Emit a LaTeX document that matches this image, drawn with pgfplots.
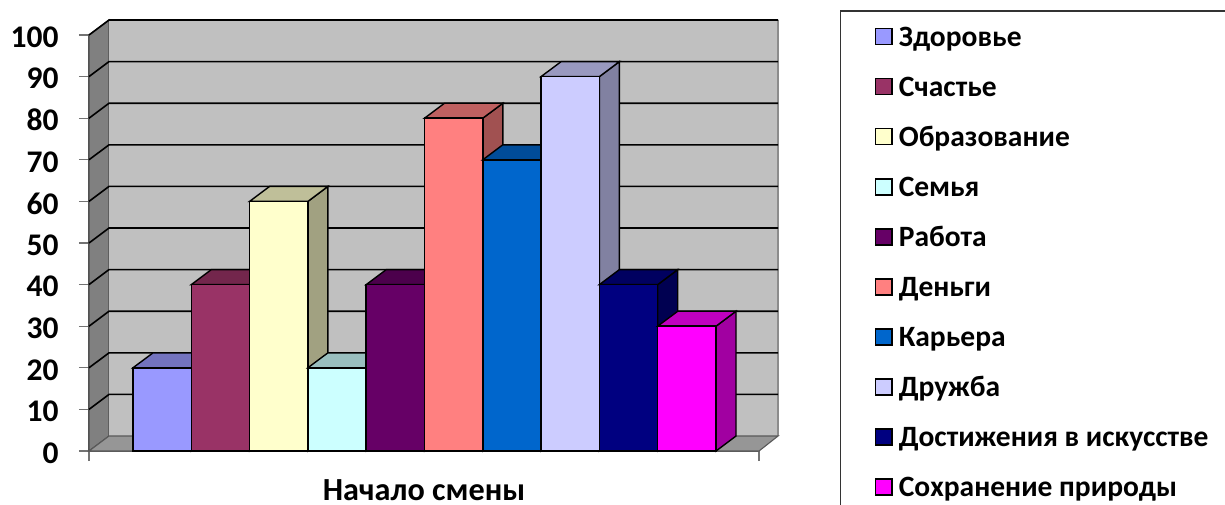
\documentclass[border=0pt]{standalone}
\usepackage{fontspec}
\setmainfont{Carlito}
\usepackage{pgfplots}
\pgfplotsset{compat=1.18}

\definecolor{wallback}{HTML}{C0C0C0}
\definecolor{wallside}{HTML}{808080}
\definecolor{wallfloor}{HTML}{969696}
\definecolor{c1}{HTML}{9999FF}
\definecolor{c2}{HTML}{993366}
\definecolor{c3}{HTML}{FFFFCC}
\definecolor{c4}{HTML}{CCFFFF}
\definecolor{c5}{HTML}{660066}
\definecolor{c6}{HTML}{FF8080}
\definecolor{c7}{HTML}{0066CC}
\definecolor{c8}{HTML}{CCCCFF}
\definecolor{c9}{HTML}{000080}
\definecolor{c10}{HTML}{FF00FF}

\pgfplotsset{
  frontface/.style={
    ybar, bar width=58.3, bar shift=0pt,
    fill=#1, draw=black, line width=1.5pt,
    legend image code/.code={
      \draw[fill=#1, draw=black, line width=1.7pt] (-1pt,-4pt) rectangle (15.5pt,12pt);
    },
  },
  topface/.style={forget plot, fill=#1!75!black, draw=black, line width=1.4pt},
  sideface/.style={forget plot, fill=#1!63!black, draw=black, line width=1.4pt},
  gridrule/.style={forget plot, draw=black, line width=1.6pt},
}

\begin{document}
\begin{tikzpicture}
\useasboundingbox (0pt,0pt) rectangle (1225pt,504pt);
\begin{axis}[
  at={(89pt,53pt)}, anchor=south west,
  scale only axis, width=670pt, height=416pt,
  xmin=89, xmax=759, ymin=0, ymax=100,
  clip=false,
  axis x line=bottom, axis y line=left,
  axis line style={-, draw=black!65, line width=1.3pt},
  xtick={89,759}, xticklabels={,},
  ytick={0,10,...,100},
  tick align=outside, major tick length=10pt,
  tick style={draw=black!55, line width=1.2pt},
  /pgf/number format/assume math mode=true,
  yticklabel style={font=\fontsize{31.5}{31.5}\selectfont\bfseries, xshift=-17pt, yshift=-2pt},
  xlabel={Начало смены},
  xlabel style={at={(axis description cs:0.5,-0.094)}, anchor=center,
    font=\fontsize{32.2}{32.2}\selectfont\bfseries},
  legend style={
    at={(1.1209,1.0589)}, anchor=north west,
    draw=black!80, line width=1.3pt, fill=white,
    inner xsep=34pt, inner ysep=16.5pt,
    row sep=24.7pt, column sep=6pt,
    font=\fontsize{29.5}{29.5}\selectfont\bfseries,
    nodes={inner sep=0pt, text height=18pt, text depth=7pt},
  },
  legend cell align=left,
]
% Walls and floor of the chart box
\addplot[forget plot, fill=wallside, draw=black!70, line width=1.2pt]
  coordinates {(89,0)(109,3.6)(109,103.6)(89,100)} -- cycle;
\addplot[forget plot, fill=wallback, draw=none]
  coordinates {(109,3.6)(109,103.6)(778,103.6)(778,3.6)} -- cycle;
\addplot[forget plot, draw=black!45, line width=1.6pt]
  coordinates {(778,3.6)(778,103.6)};
\addplot[forget plot, fill=wallfloor, draw=black!65, line width=1.1pt]
  coordinates {(89,0)(109,3.6)(778,3.6)(759,0)} -- cycle;

% Gridlines running across the side wall and the back wall
\addplot[gridrule] coordinates {(89,10)(109,13.6)(778,13.6)};
\addplot[gridrule] coordinates {(89,20)(109,23.6)(778,23.6)};
\addplot[gridrule] coordinates {(89,30)(109,33.6)(778,33.6)};
\addplot[gridrule] coordinates {(89,40)(109,43.6)(778,43.6)};
\addplot[gridrule] coordinates {(89,50)(109,53.6)(778,53.6)};
\addplot[gridrule] coordinates {(89,60)(109,63.6)(778,63.6)};
\addplot[gridrule] coordinates {(89,70)(109,73.6)(778,73.6)};
\addplot[gridrule] coordinates {(89,80)(109,83.6)(778,83.6)};
\addplot[gridrule] coordinates {(89,90)(109,93.6)(778,93.6)};
\addplot[gridrule] coordinates {(89,100)(109,103.6)(778,103.6)};

% Bars, left to right: side, top, then the front face carrying the value
\addplot[sideface=c1] coordinates {(191.3,0)(211.3,3.6)(211.3,23.6)(191.3,20)} -- cycle;
\addplot[topface=c1] coordinates {(133,20)(153,23.6)(211.3,23.6)(191.3,20)} -- cycle;
\addplot[frontface=c1] coordinates {(162.15,20)};
\addlegendentry{Здоровье}

\addplot[sideface=c2] coordinates {(249.6,0)(269.6,3.6)(269.6,43.6)(249.6,40)} -- cycle;
\addplot[topface=c2] coordinates {(191.3,40)(211.3,43.6)(269.6,43.6)(249.6,40)} -- cycle;
\addplot[frontface=c2] coordinates {(220.45,40)};
\addlegendentry{Счастье}

\addplot[sideface=c3] coordinates {(307.9,0)(327.9,3.6)(327.9,63.6)(307.9,60)} -- cycle;
\addplot[topface=c3] coordinates {(249.6,60)(269.6,63.6)(327.9,63.6)(307.9,60)} -- cycle;
\addplot[frontface=c3] coordinates {(278.75,60)};
\addlegendentry{Образование}

\addplot[sideface=c4] coordinates {(366.2,0)(386.2,3.6)(386.2,23.6)(366.2,20)} -- cycle;
\addplot[topface=c4] coordinates {(307.9,20)(327.9,23.6)(386.2,23.6)(366.2,20)} -- cycle;
\addplot[frontface=c4] coordinates {(337.05,20)};
\addlegendentry{Семья}

\addplot[sideface=c5] coordinates {(424.5,0)(444.5,3.6)(444.5,43.6)(424.5,40)} -- cycle;
\addplot[topface=c5] coordinates {(366.2,40)(386.2,43.6)(444.5,43.6)(424.5,40)} -- cycle;
\addplot[frontface=c5] coordinates {(395.35,40)};
\addlegendentry{Работа}

\addplot[sideface=c6] coordinates {(482.8,0)(502.8,3.6)(502.8,83.6)(482.8,80)} -- cycle;
\addplot[topface=c6] coordinates {(424.5,80)(444.5,83.6)(502.8,83.6)(482.8,80)} -- cycle;
\addplot[frontface=c6] coordinates {(453.65,80)};
\addlegendentry{Деньги}

\addplot[sideface=c7] coordinates {(541.1,0)(561.1,3.6)(561.1,73.6)(541.1,70)} -- cycle;
\addplot[topface=c7] coordinates {(482.8,70)(502.8,73.6)(561.1,73.6)(541.1,70)} -- cycle;
\addplot[frontface=c7] coordinates {(511.95,70)};
\addlegendentry{Карьера}

\addplot[sideface=c8] coordinates {(599.4,0)(619.4,3.6)(619.4,93.6)(599.4,90)} -- cycle;
\addplot[topface=c8] coordinates {(541.1,90)(561.1,93.6)(619.4,93.6)(599.4,90)} -- cycle;
\addplot[frontface=c8] coordinates {(570.25,90)};
\addlegendentry{Дружба}

\addplot[sideface=c9] coordinates {(657.7,0)(677.7,3.6)(677.7,43.6)(657.7,40)} -- cycle;
\addplot[topface=c9] coordinates {(599.4,40)(619.4,43.6)(677.7,43.6)(657.7,40)} -- cycle;
\addplot[frontface=c9] coordinates {(628.55,40)};
\addlegendentry{Достижения в искусстве}

\addplot[sideface=c10] coordinates {(716,0)(736,3.6)(736,33.6)(716,30)} -- cycle;
\addplot[topface=c10] coordinates {(657.7,30)(677.7,33.6)(736,33.6)(716,30)} -- cycle;
\addplot[frontface=c10] coordinates {(686.85,30)};
\addlegendentry{Сохранение природы}
\end{axis}
\end{tikzpicture}
\end{document}
